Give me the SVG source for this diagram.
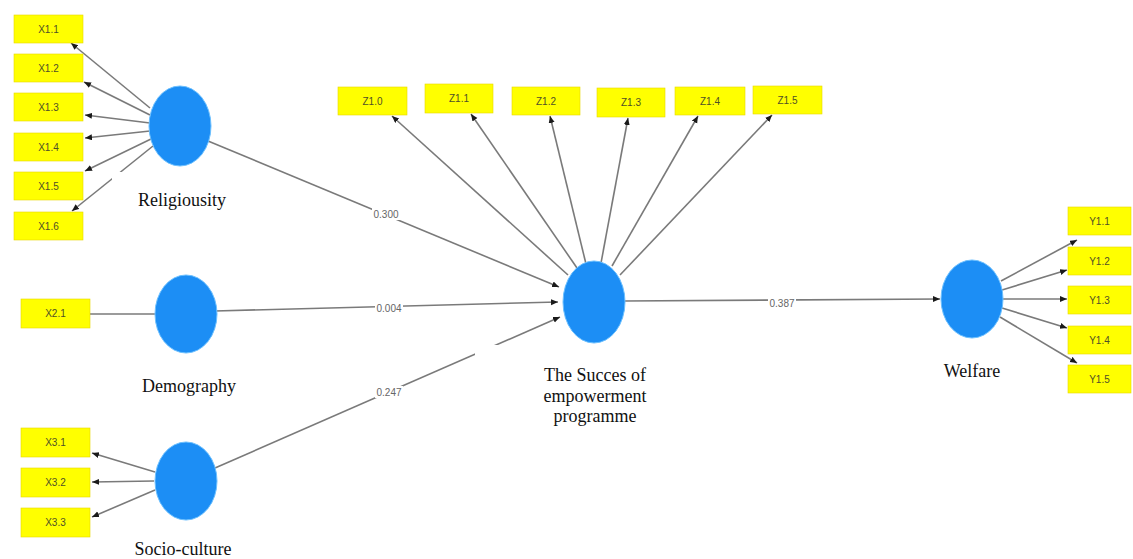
<svg xmlns="http://www.w3.org/2000/svg" width="1133" height="559" viewBox="0 0 1133 559">
<style>
.bg{fill:#ffffff}
.ind rect{fill:#ffff00;stroke:#e8d800;stroke-width:0.6}
.ind text{font-family:"Liberation Sans",Arial,sans-serif;font-size:10px;fill:#4f4f28;text-anchor:middle}
.lat ellipse{fill:#1c8ef5;stroke:#6cc0ff;stroke-width:1}
.lbl{font-family:"Liberation Serif","Times New Roman",serif;font-size:18px;fill:#111111;text-anchor:middle}
.cn line{stroke:#7a7a7a;stroke-width:1.6;fill:none}
.cn .a{marker-end:url(#arr)}
.pl rect{fill:#ffffff}
.pl text{font-family:"Liberation Sans",Arial,sans-serif;font-size:10px;fill:#666666;text-anchor:middle}
.wb{fill:#ffffff}
</style>
<defs>
<marker id="arr" markerUnits="userSpaceOnUse" markerWidth="8" markerHeight="7" refX="7" refY="3" orient="auto">
<path d="M0,0 L7,3 L0,6 z" fill="#1a1a1a"/>
</marker>
</defs>
<rect class="bg" x="0" y="0" width="1133" height="559"/>

<g id="connectors" class="cn">
<line class="a" x1="150" y1="108" x2="71" y2="43"/>
<line class="a" x1="150" y1="115" x2="84" y2="82"/>
<line class="a" x1="150" y1="123" x2="85" y2="115"/>
<line class="a" x1="150" y1="131" x2="85" y2="138"/>
<line class="a" x1="151" y1="139" x2="85" y2="171"/>
<line class="a" x1="153" y1="146" x2="72" y2="211"/>
<line class="a" x1="208" y1="141" x2="559" y2="287"/>
<line x1="90" y1="314" x2="158" y2="314"/>
<line class="a" x1="215" y1="311" x2="558" y2="302"/>
<line class="a" x1="155" y1="472" x2="92" y2="453"/>
<line class="a" x1="154" y1="481" x2="92" y2="482"/>
<line class="a" x1="155" y1="490" x2="92" y2="517"/>
<line class="a" x1="215" y1="468" x2="560" y2="317"/>
<line class="a" x1="568" y1="275" x2="392" y2="116"/>
<line class="a" x1="577" y1="268" x2="471" y2="114"/>
<line class="a" x1="586" y1="264" x2="550" y2="116"/>
<line class="a" x1="601" y1="263" x2="628" y2="118"/>
<line class="a" x1="612" y1="266" x2="698" y2="116"/>
<line class="a" x1="620" y1="275" x2="772" y2="115"/>
<line class="a" x1="624" y1="301" x2="940" y2="299"/>
<line class="a" x1="1001" y1="281" x2="1077" y2="240"/>
<line class="a" x1="1002" y1="290" x2="1067" y2="270"/>
<line class="a" x1="1003" y1="299" x2="1067" y2="299"/>
<line class="a" x1="1002" y1="308" x2="1067" y2="328"/>
<line class="a" x1="1000" y1="317" x2="1077" y2="363"/>
<g class="pl">
<rect x="372" y="208" width="28" height="12"/><text x="386" y="217.5">0.300</text>
<rect x="375" y="302" width="28" height="12"/><text x="389" y="311.5">0.004</text>
<rect x="375" y="386" width="28" height="12"/><text x="389" y="395.5">0.247</text>
<rect x="768" y="297" width="28" height="12"/><text x="782" y="306.5">0.387</text>
</g>
</g>

<g id="X1.1" class="ind"><rect x="14" y="15" width="69" height="28"/><text x="48.5" y="32.5">X1.1</text></g>
<g id="X1.2" class="ind"><rect x="14" y="54" width="69" height="28"/><text x="48.5" y="71.5">X1.2</text></g>
<g id="X1.3" class="ind"><rect x="14" y="93" width="69" height="28"/><text x="48.5" y="110.5">X1.3</text></g>
<g id="X1.4" class="ind"><rect x="14" y="133" width="69" height="28"/><text x="48.5" y="150.5">X1.4</text></g>
<g id="X1.5" class="ind"><rect x="14" y="172" width="69" height="28"/><text x="48.5" y="189.5">X1.5</text></g>
<g id="X1.6" class="ind"><rect x="14" y="212" width="69" height="28"/><text x="48.5" y="229.5">X1.6</text></g>

<g id="X2.1" class="ind"><rect x="21" y="299" width="69" height="29"/><text x="55.5" y="317">X2.1</text></g>

<g id="X3.1" class="ind"><rect x="21" y="428" width="69" height="29"/><text x="55.5" y="446">X3.1</text></g>
<g id="X3.2" class="ind"><rect x="21" y="468" width="69" height="29"/><text x="55.5" y="486">X3.2</text></g>
<g id="X3.3" class="ind"><rect x="21" y="508" width="69" height="29"/><text x="55.5" y="526">X3.3</text></g>

<g id="Z1.0" class="ind"><rect x="338" y="87" width="69" height="28"/><text x="372.5" y="104.5">Z1.0</text></g>
<g id="Z1.1" class="ind"><rect x="425" y="84" width="68" height="29"/><text x="459" y="102">Z1.1</text></g>
<g id="Z1.2" class="ind"><rect x="512" y="87" width="68" height="28"/><text x="546" y="104.5">Z1.2</text></g>
<g id="Z1.3" class="ind"><rect x="597" y="88" width="68" height="29"/><text x="631" y="106">Z1.3</text></g>
<g id="Z1.4" class="ind"><rect x="675" y="87" width="70" height="28"/><text x="710" y="104.5">Z1.4</text></g>
<g id="Z1.5" class="ind"><rect x="753" y="86" width="69" height="28"/><text x="787.5" y="103.5">Z1.5</text></g>

<g id="Y1.1" class="ind"><rect x="1068" y="207" width="63" height="28"/><text x="1099.5" y="224.5">Y1.1</text></g>
<g id="Y1.2" class="ind"><rect x="1068" y="247" width="63" height="28"/><text x="1099.5" y="264.5">Y1.2</text></g>
<g id="Y1.3" class="ind"><rect x="1068" y="286" width="63" height="28"/><text x="1099.5" y="303.5">Y1.3</text></g>
<g id="Y1.4" class="ind"><rect x="1068" y="326" width="63" height="28"/><text x="1099.5" y="343.5">Y1.4</text></g>
<g id="Y1.5" class="ind"><rect x="1068" y="365" width="63" height="28"/><text x="1099.5" y="382.5">Y1.5</text></g>

<g id="religiousity" class="lat">
<ellipse cx="180" cy="126" rx="31" ry="40"/>
<rect class="wb" x="112" y="172" width="128" height="42"/>
<text class="lbl" x="182" y="206">Religiousity</text>
</g>

<g id="demography" class="lat">
<ellipse cx="186" cy="314" rx="31" ry="39"/>
<text class="lbl" x="189" y="392">Demography</text>
</g>

<g id="socio-culture" class="lat">
<ellipse cx="186" cy="481" rx="31" ry="39"/>
<text class="lbl" x="183" y="555">Socio-culture</text>
</g>

<g id="success" class="lat">
<ellipse cx="594" cy="302" rx="31" ry="41"/>
<rect class="wb" x="475" y="345" width="200" height="85"/>
<text class="lbl" x="595" y="381">The Succes of</text>
<text class="lbl" x="595" y="402">empowerment</text>
<text class="lbl" x="595" y="422">programme</text>
</g>

<g id="welfare" class="lat">
<ellipse cx="972" cy="299" rx="31" ry="39"/>
<text class="lbl" x="972" y="377">Welfare</text>
</g>
</svg>
